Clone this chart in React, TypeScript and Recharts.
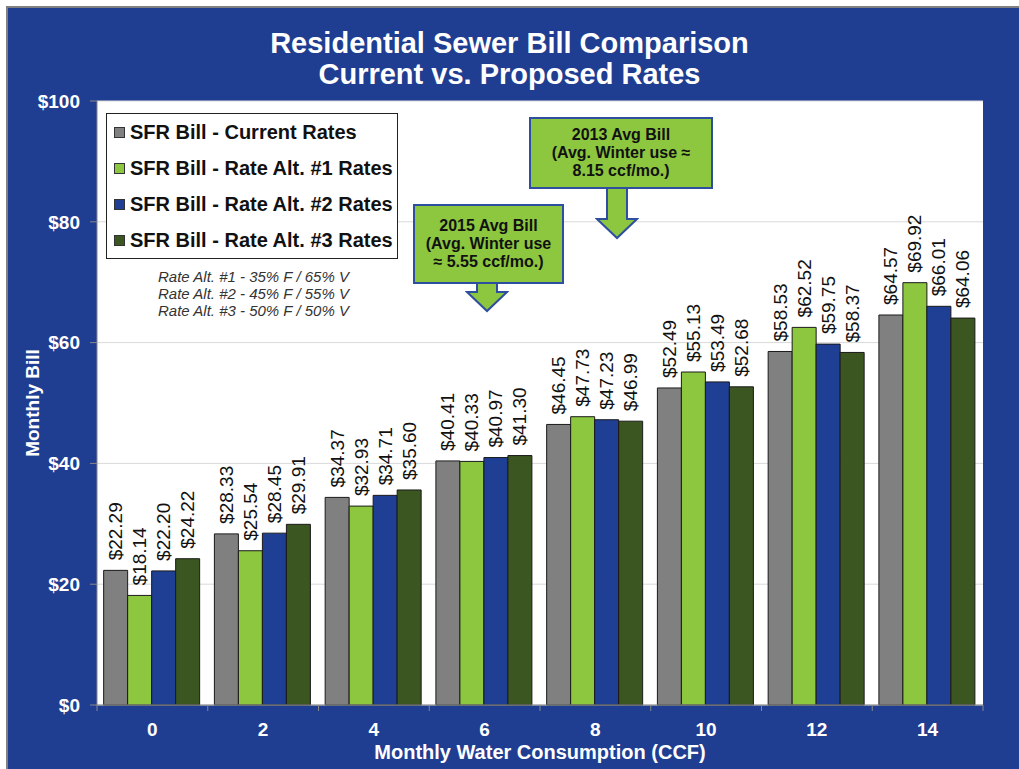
import React from "react";
import {
  BarChart,
  Bar,
  XAxis,
  YAxis,
  CartesianGrid,
  Legend,
  LabelList,
} from "recharts";

const usage = ["0", "2", "4", "6", "8", "10", "12", "14"];
const currentRates = [22.29, 28.33, 34.37, 40.41, 46.45, 52.49, 58.53, 64.57];
const alt1Rates = [18.14, 25.54, 32.93, 40.33, 47.73, 55.13, 62.52, 69.92];
const alt2Rates = [22.2, 28.45, 34.71, 40.97, 47.23, 53.49, 59.75, 66.01];
const alt3Rates = [24.22, 29.91, 35.6, 41.3, 46.99, 52.68, 58.37, 64.06];
const yTicks = [0, 20, 40, 60, 80, 100];
const rateNotes = [
  "Rate Alt. #1 - 35% F / 65% V",
  "Rate Alt. #2 - 45% F / 55% V",
  "Rate Alt. #3 - 50% F / 50% V",
];

const series = [
  { key: "current", name: "SFR Bill - Current Rates", color: "#808080" },
  { key: "alt1", name: "SFR Bill - Rate Alt. #1 Rates", color: "#8DC63F" },
  { key: "alt2", name: "SFR Bill - Rate Alt. #2 Rates", color: "#1F3F94" },
  { key: "alt3", name: "SFR Bill - Rate Alt. #3 Rates", color: "#3B5620" },
];

const data = usage.map((u, i) => ({
  usage: u,
  current: currentRates[i],
  alt1: alt1Rates[i],
  alt2: alt2Rates[i],
  alt3: alt3Rates[i],
}));

const FONT = '"Liberation Sans", Arial, sans-serif';
const BG = "#1F3E92";

function ValueLabel(props: any) {
  const { x, y, width, value } = props;
  const cx = x + width / 2;
  const ty = y - 10;
  return (
    <text
      x={cx}
      y={ty}
      transform={`rotate(-90, ${cx}, ${ty})`}
      textAnchor="start"
      dominantBaseline="central"
      fontSize={19}
      fill="#111"
      fontFamily={FONT}
    >
      {`$${Number(value).toFixed(2)}`}
    </text>
  );
}

// category label plus a small tick mark on the boundary between groups
function UsageTick(props: any) {
  const { x, y, payload, index, visibleTicksCount } = props;
  const half = payload.offset || 0;
  const axisY = y - 18;
  const last = index === visibleTicksCount - 1;
  return (
    <g>
      <line x1={x - half} x2={x - half} y1={axisY} y2={axisY + 6} stroke="#888" />
      {last && <line x1={x + half} x2={x + half} y1={axisY} y2={axisY + 6} stroke="#888" />}
      <text x={x} y={y} dy="0.71em" textAnchor="middle" fill="#fff" fontSize={19} fontWeight={700} fontFamily={FONT}>
        {payload.value}
      </text>
    </g>
  );
}

function LegendBox(props: any) {
  const items = props.payload || [];
  return (
    <div
      style={{
        border: "1.5px solid #222",
        background: "#fff",
        width: 292,
        paddingLeft: 7,
        boxSizing: "border-box",
        fontFamily: FONT,
      }}
    >
      {items.map((it: any) => (
        <div
          key={it.value}
          style={{ height: 36, display: "flex", alignItems: "center", fontSize: 20, fontWeight: 700, color: "#111" }}
        >
          <span
            style={{
              width: 9,
              height: 9,
              border: "1px solid #333",
              background: it.color,
              marginRight: 5,
              display: "inline-block",
            }}
          />
          {it.value}
        </div>
      ))}
    </div>
  );
}

function Callout({ left, top, width, height, arrowX, arrowLen, lines }: any) {
  return (
    <>
      <div
        style={{
          position: "absolute",
          left,
          top,
          width,
          height,
          boxSizing: "border-box",
          background: "#8DC63F",
          border: "2px solid #2E4FA0",
          fontFamily: FONT,
          fontWeight: 700,
          fontSize: 16,
          lineHeight: "18px",
          textAlign: "center",
          color: "#111",
          display: "flex",
          flexDirection: "column",
          justifyContent: "center",
        }}
      >
        {lines.map((l: string) => (
          <div key={l}>{l}</div>
        ))}
      </div>
      <svg
        style={{ position: "absolute", left: arrowX - 22, top: top + height - 2 }}
        width={44}
        height={arrowLen + 4}
      >
        <polygon
          points={`12,1 32,1 32,${arrowLen - 18} 42,${arrowLen - 18} 22,${arrowLen + 1} 2,${arrowLen - 18} 12,${arrowLen - 18}`}
          fill="#8DC63F"
          stroke="#2E4FA0"
          strokeWidth={2}
        />
      </svg>
    </>
  );
}

export default function App() {
  return (
    <div style={{ position: "absolute", left: 0, top: 0, width: 1019, height: 769, overflow: "hidden" }}>
      <div
        style={{
          position: "absolute",
          left: 6,
          top: 6,
          width: 1020,
          height: 770,
          background: BG,
          borderTop: "2px solid #808080",
          borderLeft: "2px solid #808080",
        }}
      />
      <div
        style={{
          position: "absolute",
          left: 0,
          top: 28,
          width: 1019,
          textAlign: "center",
          color: "#fff",
          fontFamily: FONT,
          fontWeight: 700,
          fontSize: 29,
          lineHeight: "31px",
        }}
      >
        <div>Residential Sewer Bill Comparison</div>
        <div>Current vs. Proposed Rates</div>
      </div>
      <BarChart
        width={1019}
        height={769}
        data={data}
        margin={{ top: 101, right: 36, left: 7, bottom: 4 }}
        barCategoryGap="6%"
        barGap={0}
        style={{ position: "absolute", left: 0, top: 0, fontFamily: FONT }}
      >
        <CartesianGrid vertical={false} stroke="#D9D9D9" fill="#fff" />
        <XAxis
          dataKey="usage"
          height={60}
          tickLine={false}
          tickSize={8}
          tickMargin={10}
          axisLine={{ stroke: "#888" }}
          tick={UsageTick}
          label={{
            value: "Monthly Water Consumption (CCF)",
            position: "insideBottom",
            offset: 6,
            fill: "#fff",
            fontSize: 20,
            fontWeight: 700,
          }}
        />
        <YAxis
          width={90}
          domain={[0, 100]}
          ticks={yTicks}
          tickFormatter={(v: number) => `$${v}`}
          tickSize={7}
          tickMargin={10}
          tickLine={{ stroke: "#888" }}
          axisLine={{ stroke: "#888" }}
          tick={{ fill: "#fff", fontSize: 19, fontWeight: 700 }}
          label={{
            value: "Monthly Bill",
            angle: -90,
            position: "insideLeft",
            offset: 25,
            fill: "#fff",
            fontSize: 19,
            fontWeight: 700,
            style: { textAnchor: "middle" },
          }}
        />
        <Legend
          layout="vertical"
          align="center"
          verticalAlign="middle"
          wrapperStyle={{ position: "absolute", left: 106, top: 113, width: 292 }}
          content={LegendBox}
        />
        {series.map((s) => (
          <Bar
            key={s.key}
            dataKey={s.key}
            name={s.name}
            fill={s.color}
            stroke="#1a1a1a"
            strokeWidth={1}
            isAnimationActive={false}
          >
            <LabelList dataKey={s.key} content={ValueLabel} />
          </Bar>
        ))}
      </BarChart>
      <div
        style={{
          position: "absolute",
          left: 106,
          top: 268,
          width: 295,
          textAlign: "center",
          fontFamily: FONT,
          fontStyle: "italic",
          fontSize: 15,
          lineHeight: "17px",
          color: "#333",
        }}
      >
        {rateNotes.map((n) => (
          <div key={n}>{n}</div>
        ))}
      </div>
      <Callout
        left={529}
        top={117}
        width={184}
        height={72}
        arrowX={617}
        arrowLen={50}
        lines={["2013 Avg Bill", "(Avg. Winter use \u2248", "8.15 ccf/mo.)"]}
      />
      <Callout
        left={413}
        top={204}
        width={151}
        height={80}
        arrowX={487}
        arrowLen={28}
        lines={["2015 Avg Bill", "(Avg. Winter use", "\u2248 5.55 ccf/mo.)"]}
      />
    </div>
  );
}
